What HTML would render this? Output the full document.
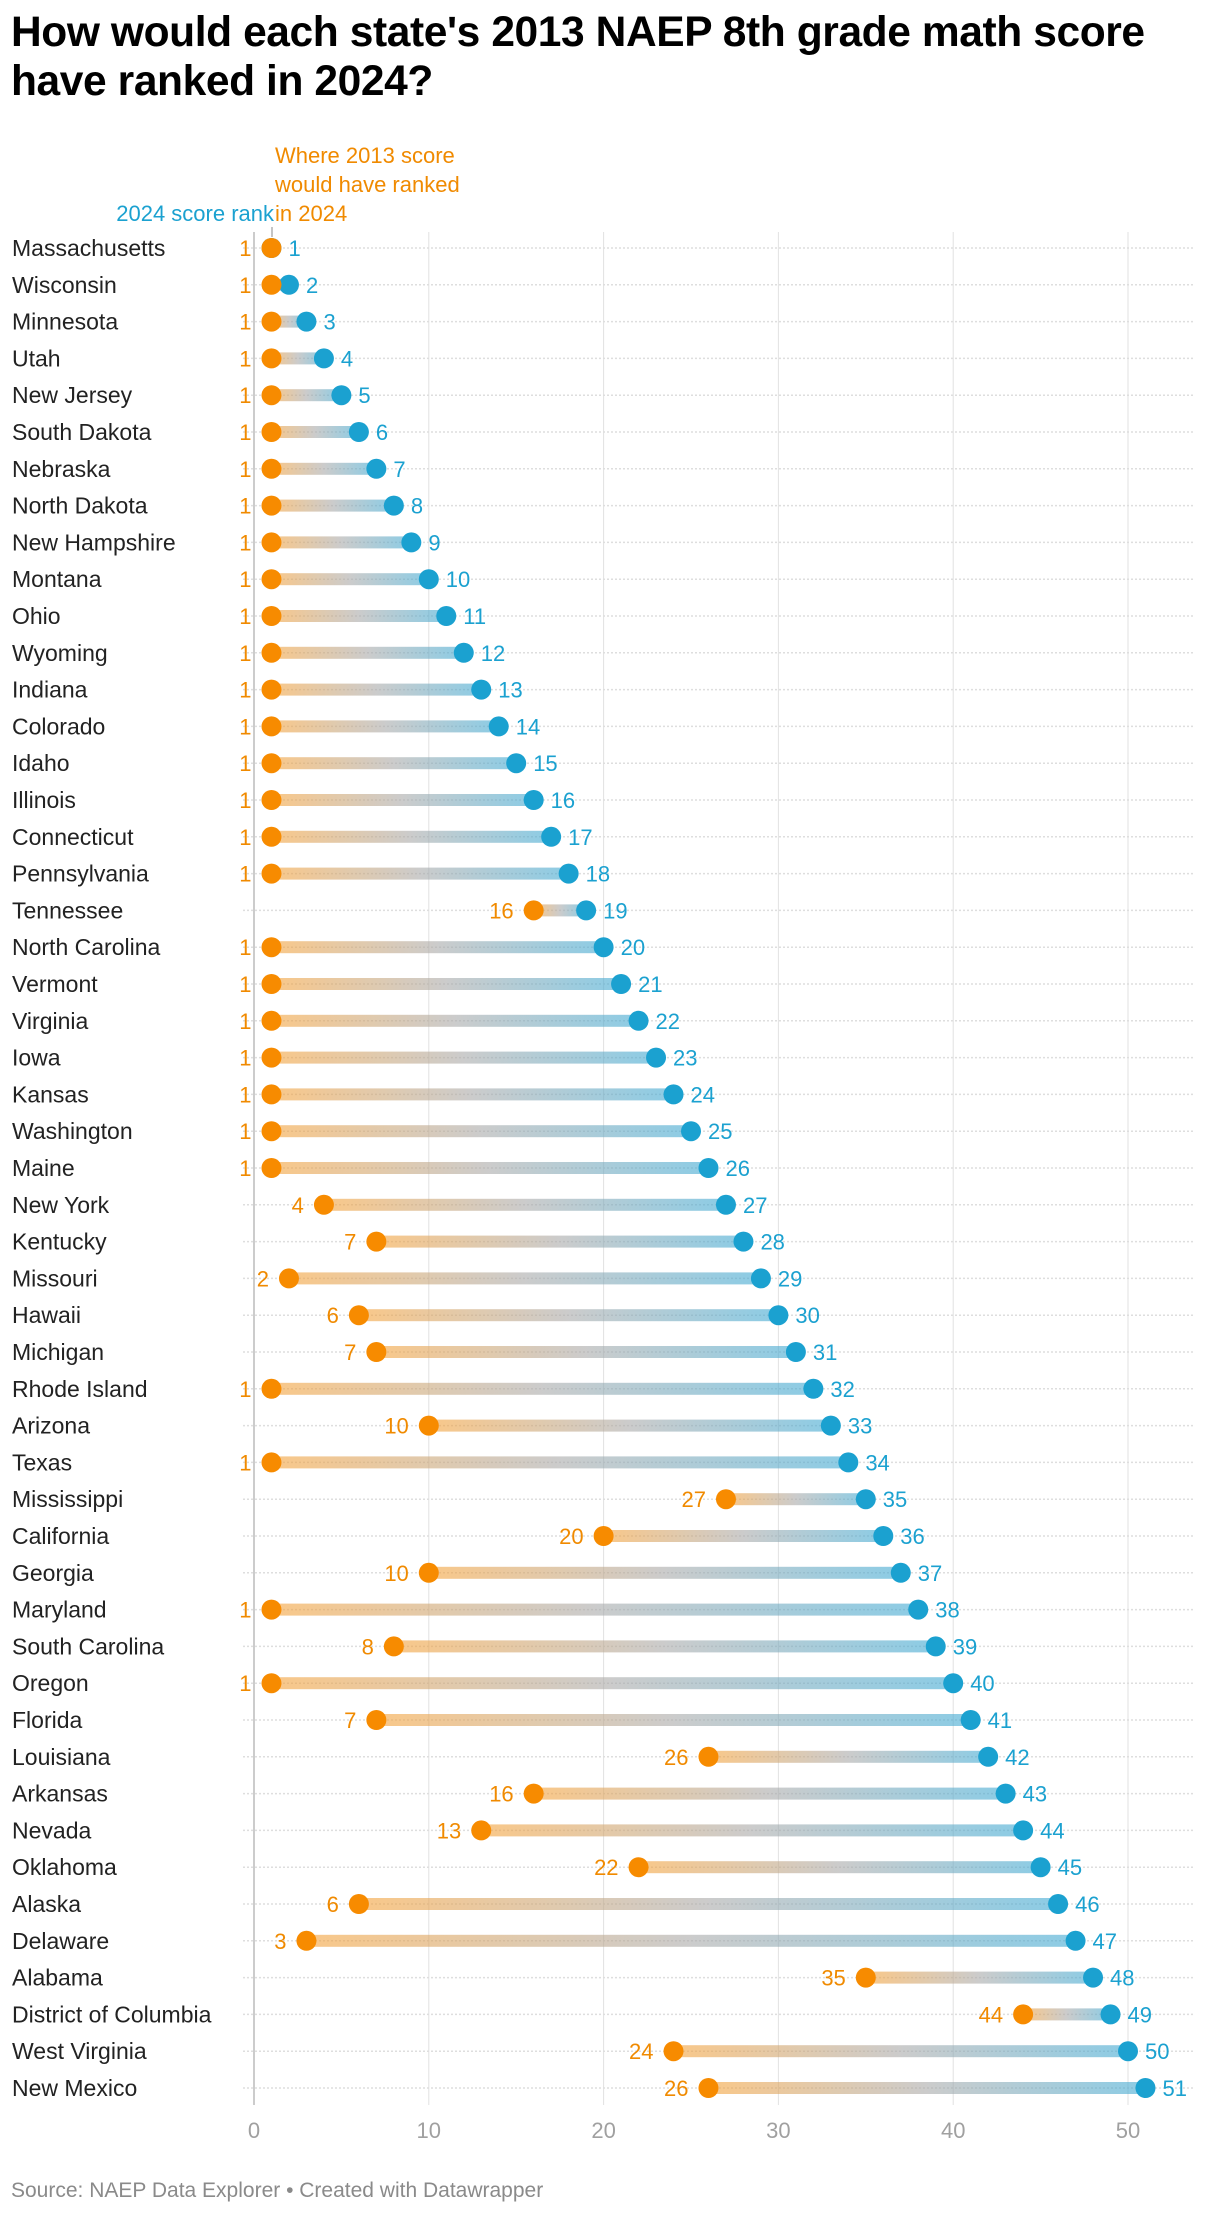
<!DOCTYPE html>
<html><head><meta charset="utf-8">
<style>
body{margin:0;background:#fff;width:1220px;height:2214px;overflow:hidden;font-family:"Liberation Sans",sans-serif;}
h1{position:absolute;left:11px;top:8px;margin:0;font-size:42.5px;line-height:49px;font-weight:bold;color:#000;letter-spacing:-0.4px;width:1260px;}
svg{position:absolute;left:0;top:0;}
</style></head><body>
<h1>How would each state's 2013 NAEP 8th grade math score<br>have ranked in 2024?</h1>
<svg id="chart" width="1220" height="2214">
<defs><linearGradient id="g" x1="0" x2="1" y1="0" y2="0"><stop offset="0" stop-color="#f5a23a" stop-opacity="0.6"/><stop offset="0.5" stop-color="#a9a9a9" stop-opacity="0.6"/><stop offset="1" stop-color="#3fa9d3" stop-opacity="0.6"/></linearGradient></defs>
</svg>
<script>
const states=["Massachusetts","Wisconsin","Minnesota","Utah","New Jersey","South Dakota","Nebraska","North Dakota","New Hampshire","Montana","Ohio","Wyoming","Indiana","Colorado","Idaho","Illinois","Connecticut","Pennsylvania","Tennessee","North Carolina","Vermont","Virginia","Iowa","Kansas","Washington","Maine","New York","Kentucky","Missouri","Hawaii","Michigan","Rhode Island","Arizona","Texas","Mississippi","California","Georgia","Maryland","South Carolina","Oregon","Florida","Louisiana","Arkansas","Nevada","Oklahoma","Alaska","Delaware","Alabama","District of Columbia","West Virginia","New Mexico"];
const rank2024=[1,2,3,4,5,6,7,8,9,10,11,12,13,14,15,16,17,18,19,20,21,22,23,24,25,26,27,28,29,30,31,32,33,34,35,36,37,38,39,40,41,42,43,44,45,46,47,48,49,50,51];
const rank2013=[1,1,1,1,1,1,1,1,1,1,1,1,1,1,1,1,1,1,16,1,1,1,1,1,1,1,4,7,2,6,7,1,10,1,27,20,10,1,8,1,7,26,16,13,22,6,3,35,44,24,26];
const ticks=[0,10,20,30,40,50];
const svg=document.getElementById('chart');
const NS='http://www.w3.org/2000/svg';
const x=v=>254+17.48*v;
const y=i=>248+36.8*i;
function mk(t,a){const e=document.createElementNS(NS,t);for(const k in a)e.setAttribute(k,a[k]);svg.appendChild(e);return e;}
ticks.forEach(t=>{
 const l=mk('line',{x1:x(t),x2:x(t),y1:232,y2:2105,stroke:t===0?'#bbb':'#e2e2e2','stroke-width':t===0?1.5:1});
 
 
 const tx=mk('text',{x:x(t),y:2138,'text-anchor':'middle','font-size':22,fill:'#a0a0a0'});
 tx.textContent=t;
 
 
});
states.forEach((s,i)=>{
 const yy=y(i),a=rank2013[i],b=rank2024[i];
 const d=mk('line',{x1:243,x2:1194,y1:yy,y2:yy,stroke:'#dedede','stroke-width':1.5,'stroke-dasharray':'2 2'});
 
 
 const lb=mk('text',{x:12,y:yy+8,'font-size':23,fill:'#222'});
 lb.textContent=s;
 
 
 if(b>a){const r=mk('rect',{x:x(a),y:yy-6,width:x(b)-x(a),height:12,fill:'url(#g)'});
 
 }
 const c1=mk('circle',{cx:x(b),cy:yy,r:10,fill:'#1ba1d0'});
 
 
 const c2=mk('circle',{cx:x(a),cy:yy,r:10,fill:'#f78b00'});
 
 
 const t1=mk('text',{x:x(a)-20,y:yy+8,'text-anchor':'end','font-size':22,fill:'#f08a00'});
 t1.textContent=a;
 
 
 const t2=mk('text',{x:x(b)+17,y:yy+8,'font-size':22,fill:'#1ba1d0'});
 t2.textContent=b;
 
 
});
const ann=[["Where 2013 score",163],["would have ranked",192],["in 2024",221]];
ann.forEach(([s,yy])=>{const t=mk('text',{x:275,y:yy,'font-size':22,fill:'#f08a00'});t.textContent=s;
 
 });
const a2=mk('text',{x:274,y:221,'text-anchor':'end','font-size':22,fill:'#1ba1d0'});a2.textContent='2024 score rank';


mk('line',{x1:272,x2:272,y1:227,y2:237,stroke:'#888','stroke-width':1});
const src=mk('text',{x:11,y:2197,'font-size':21,fill:'#8a8a8a'});src.textContent='Source: NAEP Data Explorer • Created with Datawrapper';


</script>
</body></html>
